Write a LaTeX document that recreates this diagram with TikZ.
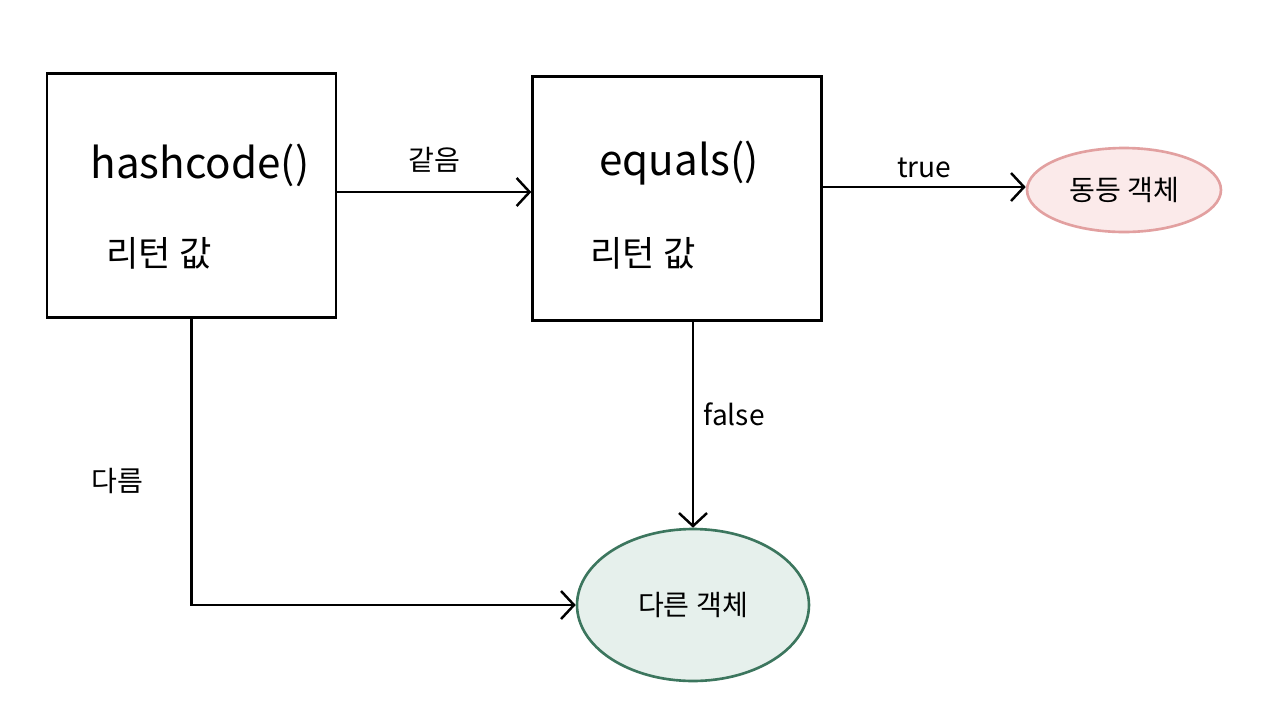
\documentclass[tikz,border=0pt]{standalone}
\usepackage{fontspec}
\setmainfont{Noto Sans CJK KR}
\usepackage{xcolor}
\usetikzlibrary{
  arrows.meta,
  positioning,
  shapes.geometric
}
\definecolor{samefill}{RGB}{251, 234, 234}
\definecolor{sameline}{RGB}{226, 160, 160}
\definecolor{difffill}{RGB}{230, 240, 236}
\definecolor{diffline}{RGB}{60, 118, 94}

\begin{document}
\begin{tikzpicture}[x=0.02cm,y=-0.02cm,
  methodbox/.style={draw,line width=1.4pt,minimum width=5.78cm,minimum height=4.88cm,inner sep=0pt},
  result/.style={ellipse,line width=1.5pt,inner sep=0pt,font=\fontsize{16}{18}\selectfont},
  flow/.style={line width=1.4pt,-{Straight Barb[length=2.6mm,width=5.6mm,line width=1.4pt]}},
  lbl/.style={font=\fontsize{16}{18}\selectfont}]
\useasboundingbox (0,0) rectangle (1285,711);
% method boxes
\node[methodbox](hash) at (191.5,195.5){};
\node[font=\fontsize{24}{28}\selectfont](hashname) at (200,165){hashcode()};
\node[font=\fontsize{20}{24}\selectfont](hashret) at (159,253){리턴 값};
\node[methodbox](eq) at (677,198.5){};
\node[font=\fontsize{24}{28}\selectfont](eqname) at (679,163){equals()};
\node[font=\fontsize{20}{24}\selectfont](eqret) at (643,253){리턴 값};
% results
\node[result,draw=sameline,fill=samefill,minimum width=3.88cm,minimum height=1.68cm](same) at (1124,190){동등 객체};
\node[result,draw=diffline,fill=difffill,minimum width=4.64cm,minimum height=3.04cm](diff) at (693,605){다른 객체};
% connectors
\draw[flow](hash.east |- 0,192)--(eq.west |- 0,192) node[midway,above=7pt,lbl]{같음};
\draw[flow](eq.east |- 0,187)--(same.west |- 0,187) node[midway,above=1pt,lbl]{true};
\draw[flow](eq.south -| diff.north)--(diff.north) node[pos=0.45,right=2pt,lbl]{false};
\draw[flow](hash.south)|-(diff.west);
\node[lbl](difflbl) at (117,481){다름};
\end{tikzpicture}
\end{document}
